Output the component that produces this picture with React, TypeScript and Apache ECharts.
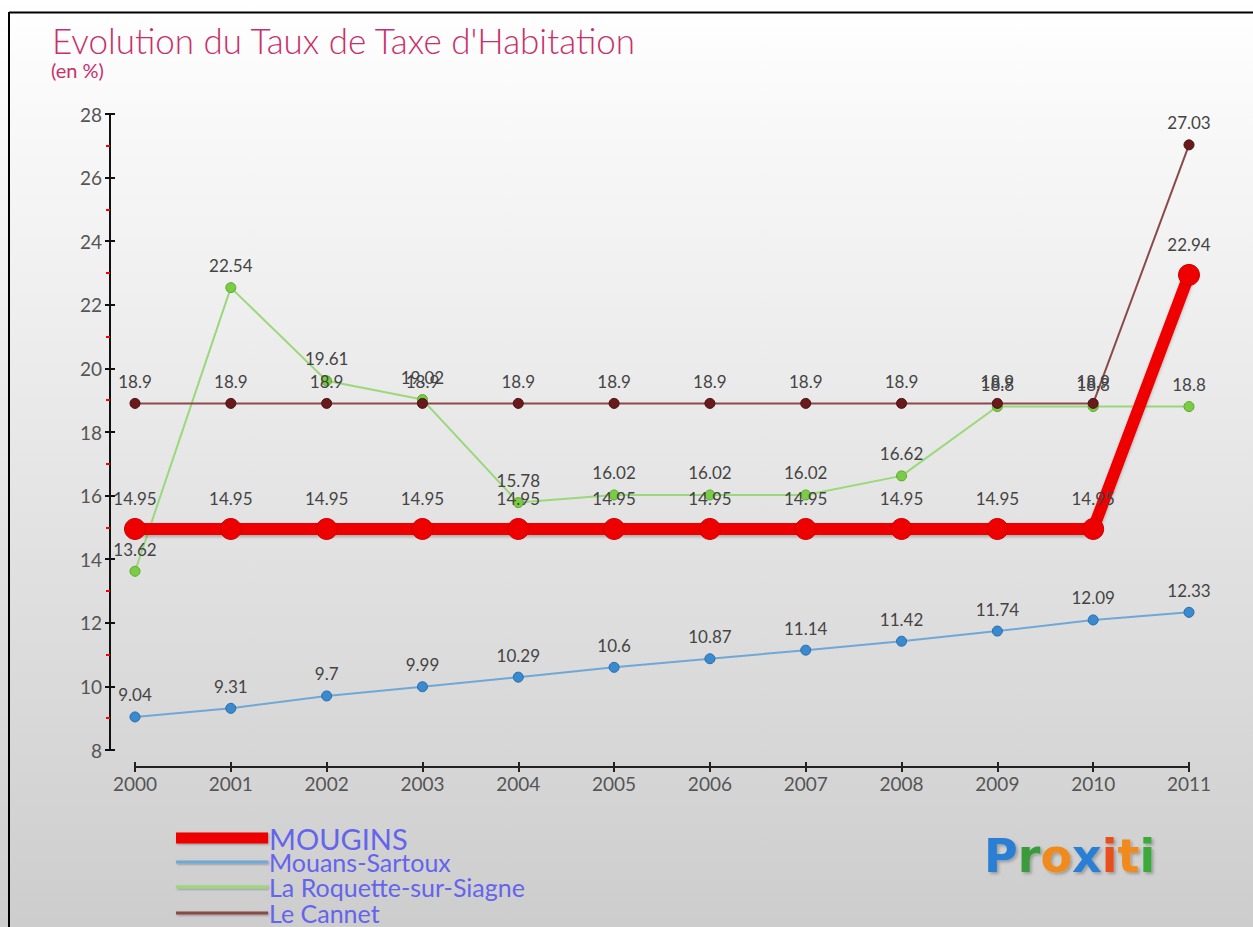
import React, { useEffect, useRef } from "react";
import * as echarts from "echarts";

const years = ["2000","2001","2002","2003","2004","2005","2006","2007","2008","2009","2010","2011"];
const mougins = [14.95,14.95,14.95,14.95,14.95,14.95,14.95,14.95,14.95,14.95,14.95,22.94];
const mouans = [9.04,9.31,9.7,9.99,10.29,10.6,10.87,11.14,11.42,11.74,12.09,12.33];
const roquette = [13.62,22.54,19.61,19.02,15.78,16.02,16.02,16.02,16.62,18.8,18.8,18.8];
const cannet = [18.9,18.9,18.9,18.9,18.9,18.9,18.9,18.9,18.9,18.9,18.9,27.03];
const seriesNames = ["MOUGINS","Mouans-Sartoux","La Roquette-sur-Siagne","Le Cannet"];
const titleText = "Evolution du Taux de Taxe d'Habitation";
const subtitleText = "(en %)";

const FONT = "Lato, 'DejaVu Sans', sans-serif";

export default function App() {
  const ref = useRef<HTMLDivElement>(null);
  useEffect(() => {
    const chart = echarts.init(ref.current!, null, { renderer: "svg" });
    const label = {
      show: true,
      position: "top" as const,
      distance: 8,
      color: "#444",
      fontSize: 17,
      fontFamily: FONT,
    };
    const legendY = [838, 862, 887, 913];
    const legendColors = ["#ee0000", "#6fa8d6", "#9ad87a", "#8a4a4a"];
    const legendWidths = [11, 3, 3, 3];
    const legendFont = [29, 25, 25, 25];
    const legendGraphics: any[] = [];
    seriesNames.forEach((n, i) => {
      legendGraphics.push({
        type: "rect",
        shape: { x: 176, y: legendY[i] - legendWidths[i] / 2, width: 92, height: legendWidths[i] },
        style: { fill: legendColors[i], shadowBlur: 2, shadowColor: "rgba(0,0,0,0.3)", shadowOffsetX: 1, shadowOffsetY: 1 },
      });
      legendGraphics.push({
        type: "text",
        x: 269,
        y: legendY[i],
        style: { text: n, fill: "#6464ec", fontSize: legendFont[i], fontFamily: FONT, textVerticalAlign: "middle" },
      });
    });
    const logoLetters = [
      ["P", "#2a7fd4"], ["r", "#3a9a3a"], ["o", "#f08a1a"], ["x", "#2a7fd4"],
      ["i", "#e8501a"], ["t", "#f08a1a"], ["i", "#3aaa3a"],
    ];
    const rich: any = {};
    let logoText = "";
    logoLetters.forEach(([ch, col], i) => {
      rich["c" + i] = { fill: col, fontSize: 46, fontFamily: "'DejaVu Sans', sans-serif", fontWeight: "bold" };
      logoText += `{c${i}|${ch}}`;
    });

    chart.setOption({
      animation: false,
      backgroundColor: {
        type: "linear", x: 0, y: 0, x2: 0, y2: 1,
        colorStops: [{ offset: 0, color: "#ffffff" }, { offset: 1, color: "#cdcdcd" }],
      },
      grid: { left: 135, right: 64, top: 114, height: 636 },
      xAxis: [
        {
          type: "category", data: years, boundaryGap: false, offset: 17,
          axisLine: { lineStyle: { color: "#222", width: 2 } },
          axisTick: { show: true, length: 5, lineStyle: { color: "#222", width: 2 } },
          axisLabel: { color: "#555", fontSize: 19, fontFamily: FONT, margin: 7 },
          splitLine: { show: false },
        },
        {
          type: "category", data: years, boundaryGap: false, offset: 17, position: "bottom",
          axisLine: { show: false },
          axisTick: { show: true, inside: true, length: 5, lineStyle: { color: "#222", width: 2 } },
          axisLabel: { show: false },
        },
      ],
      yAxis: [
        {
          type: "value", min: 8, max: 28, interval: 2, offset: 25,
          axisLine: { show: true, lineStyle: { color: "#111", width: 2 } },
          axisTick: { show: true, length: 5, lineStyle: { color: "#111", width: 2 } },
          minorTick: { show: true, splitNumber: 2, length: 4, lineStyle: { color: "#ff0000", width: 2 } },
          axisLabel: { color: "#555", fontSize: 19, fontFamily: FONT, margin: 8 },
          splitLine: { show: false },
        },
        {
          type: "value", min: 8, max: 28, interval: 2, offset: 25, position: "left",
          axisLine: { show: false },
          axisTick: { show: true, inside: true, length: 5, lineStyle: { color: "#111", width: 2 } },
          axisLabel: { show: false },
          splitLine: { show: false },
        },
      ],
      series: [
        {
          name: seriesNames[1], type: "line", data: mouans, z: 3,
          symbol: "circle", symbolSize: 10,
          lineStyle: { color: "#6fa8d6", width: 2 },
          itemStyle: { color: "#3a8ad0", borderColor: "#2a6aa8", borderWidth: 1 },
          label,
        },
        {
          name: seriesNames[2], type: "line", data: roquette, z: 4,
          symbol: "circle", symbolSize: 10,
          lineStyle: { color: "#9ad87a", width: 2 },
          itemStyle: { color: "#7acc44", borderColor: "#5aa830", borderWidth: 1 },
          label,
        },
        {
          name: seriesNames[3], type: "line", data: cannet, z: 4,
          symbol: "circle", symbolSize: 10,
          lineStyle: { color: "#8a4a4a", width: 2 },
          itemStyle: { color: "#6a1a1a", borderColor: "#4a1010", borderWidth: 1 },
          label,
        },
        {
          name: seriesNames[0], type: "line", data: mougins, z: 5,
          symbol: "circle", symbolSize: 21,
          lineStyle: { color: "#ee0000", width: 12, shadowBlur: 3, shadowColor: "rgba(0,0,0,0.25)", shadowOffsetY: 2 },
          itemStyle: { color: "#ee0000", borderColor: "#cc0000", borderWidth: 1 },
          label: { ...label, distance: 11 },
        },
      ],
      graphic: [
        {
          type: "line",
          shape: { x1: 9, y1: 12.5, x2: 1253, y2: 12.5 },
          style: { stroke: "#000", lineWidth: 2 },
        },
        {
          type: "line",
          shape: { x1: 9, y1: 12, x2: 9, y2: 927 },
          style: { stroke: "#000", lineWidth: 2 },
        },
        {
          type: "text", x: 52, y: 22,
          style: { text: titleText, fill: "#c8306a", fontSize: 35, fontFamily: FONT, fontWeight: 300 },
        },
        {
          type: "text", x: 51, y: 60,
          style: { text: subtitleText, fill: "#c8306a", fontSize: 20, fontFamily: FONT },
        },
        ...legendGraphics,
        {
          type: "text", x: 984, y: 833,
          style: { text: logoText, rich, textShadowBlur: 3, textShadowColor: "rgba(0,0,0,0.25)", textShadowOffsetX: 2, textShadowOffsetY: 2 },
        },
      ],
    });
    return () => chart.dispose();
  }, []);
  return (
    <div
      ref={ref}
      style={{ position: "absolute", left: 0, top: 0, width: 1253, height: 927 }}
    />
  );
}
